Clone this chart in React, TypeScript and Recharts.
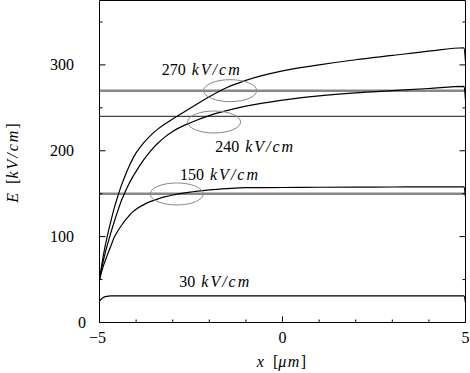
import { LineChart, Line, XAxis, YAxis, ReferenceDot } from 'recharts';

// field profiles E(x)
const xs = [-5, -4.9, -4.8, -4.7, -4.6, -4.5, -4.4, -4.3, -4.2, -4.1, -4, -3.8, -3.6, -3.4, -3.2, -3, -2.5, -2, -1.5, -1, 0, 1, 2, 3, 4, 4.96, 5];
const e270 = [50, 77, 98, 116, 133, 147, 160, 171, 181, 190, 197.5, 209, 218, 225.5, 231.5, 237, 250, 263, 274, 282, 293, 300, 306, 311, 316, 320, 303];
const e240 = [50, 71, 88, 103, 117, 130, 142, 152, 161, 169, 176, 189, 200, 209, 216.5, 222.5, 233, 241, 247, 252, 259, 264, 267.5, 270, 272.5, 275, 259];
const e150 = [50, 65, 77, 88, 99, 106.5, 113, 119, 124, 128.5, 132, 137, 141, 144, 146.5, 148.5, 152, 154.5, 156, 157, 157.2, 157.5, 157.7, 157.8, 158, 158, 146];
const e30 = [25, 29, 30.5, 31, 31, 31, 31, 31, 31, 31, 31, 31, 31, 31, 31, 31, 31, 31, 31, 31, 31, 31, 31, 31, 31, 31, 23];

// applied field levels
const levels = [270, 240, 150];

const xTicks = [-5, -4, -3, -2, -1, 0, 1, 2, 3, 4, 5];
const xLabelled = [-5, 0, 5];
const yTicks = [0, 50, 100, 150, 200, 250, 300, 350];
const yLabelled = [0, 100, 200, 300];

// annotations
const ellipses = [
  { x: -1.43, y: 270 },
  { x: -1.87, y: 233.5 },
  { x: -2.89, y: 149.7 },
];
const notes = [
  { x: -3.3, y: 288, value: '270' },
  { x: -1.84, y: 199, value: '240' },
  { x: -2.8, y: 166.5, value: '150' },
  { x: -2.82, y: 41, value: '30' },
];

const FONT = 'Liberation Serif';
const FS = 16;

const toRows = (vals: number[]) => xs.map((x, i) => ({ x, E: vals[i] }));

const makeTick = (side: string, labelled: number[], showText: boolean) => (props: any) => {
  const { x, y, payload } = props;
  const v = payload.value;
  const len = labelled.includes(v) ? 6 : 3;
  let line;
  if (side === 'bottom') line = <line x1={x} y1={y} x2={x} y2={y - len} stroke="#000" />;
  else if (side === 'top') line = <line x1={x} y1={y} x2={x} y2={y + len} stroke="#000" />;
  else if (side === 'left') line = <line x1={x} y1={y} x2={x + len} y2={y} stroke="#000" />;
  else line = <line x1={x} y1={y} x2={x - len} y2={y} stroke="#000" />;

  let text = null;
  if (showText && labelled.includes(v)) {
    const s = v < 0 ? '\u2212' + Math.abs(v) : String(v);
    if (side === 'bottom') {
      text = (
        <text className="lbl" x={v < 0 ? x - 2 : x} y={y + 20.5} textAnchor="middle" fontFamily={FONT} fontSize={FS} fill="#000">
          {s}
        </text>
      );
    } else if (side === 'left') {
      text = (
        <text className="lbl" x={v === 0 ? x - 13.5 : x - 25.5} y={y + 5.5} textAnchor="end" fontFamily={FONT} fontSize={FS} fill="#000">
          {s}
        </text>
      );
    }
  }
  return (
    <g>
      {line}
      {text}
    </g>
  );
};

const XLabel = (props: any) => {
  const vb = props.viewBox;
  const cx = vb.x + vb.width / 2 - 1;
  return (
    <text className="lbl" x={cx} y={vb.y + 44} textAnchor="middle" fontFamily={FONT} fontSize={FS} fill="#000">
      <tspan fontStyle="italic">x</tspan>
      <tspan dx={9}>[</tspan>
      <tspan fontStyle="italic" letterSpacing={1.5}>μm</tspan>
      <tspan>]</tspan>
    </text>
  );
};

const YLabel = (props: any) => {
  const vb = props.viewBox;
  const cy = vb.y + vb.height / 2 + 1.5;
  const cx = 18;
  return (
    <text className="lbl" x={cx} y={cy} textAnchor="middle" transform={`rotate(-90, ${cx}, ${cy})`} fontFamily={FONT} fontSize={FS} fill="#000">
      <tspan fontStyle="italic">E</tspan>
      <tspan dx={9}>[</tspan>
      <tspan fontStyle="italic" letterSpacing={2}>kV/cm</tspan>
      <tspan>]</tspan>
    </text>
  );
};

export default function App() {
  return (
    <div style={{ position: 'fixed', left: 0, top: 0, background: '#fff', fontFamily: FONT }}>
      <style>{`.lbl, .lbl tspan, svg text { font-family: 'Liberation Serif'; }`}</style>
      <LineChart width={470} height={373} margin={{ top: 0.5, right: 4.5, bottom: 0.5, left: 0.5 }}>
        <XAxis
          dataKey="x"
          type="number"
          domain={[-5, 5]}
          ticks={xTicks}
          allowDataOverflow
          height={50}
          tickSize={0}
          tickMargin={0}
          tickLine={false}
          axisLine={{ stroke: '#000' }}
          tick={makeTick('bottom', xLabelled, true)}
          label={{ content: XLabel }}
        />
        <XAxis
          xAxisId="top"
          orientation="top"
          mirror
          type="number"
          domain={[-5, 5]}
          ticks={xTicks}
          allowDataOverflow
          tickSize={0}
          tickMargin={0}
          tickLine={false}
          axisLine={{ stroke: '#000' }}
          tick={makeTick('top', xLabelled, false)}
        />
        <YAxis
          type="number"
          domain={[0, 375]}
          ticks={yTicks}
          allowDataOverflow
          width={99}
          tickSize={0}
          tickMargin={0}
          tickLine={false}
          axisLine={{ stroke: '#000' }}
          tick={makeTick('left', yLabelled, true)}
          label={{ content: YLabel }}
        />
        <YAxis
          yAxisId="right"
          orientation="right"
          mirror
          type="number"
          domain={[0, 375]}
          ticks={yTicks}
          allowDataOverflow
          tickSize={0}
          tickMargin={0}
          tickLine={false}
          axisLine={{ stroke: '#000' }}
          tick={makeTick('right', yLabelled, false)}
        />

        {levels.map((lv) => (
          <Line
            key={'lv' + lv}
            data={[{ x: -5, E: lv }, { x: 5, E: lv }]}
            dataKey="E"
            type="linear"
            stroke={lv === 240 ? '#444' : '#888'}
            strokeWidth={lv === 240 ? 1.2 : 2.5}
            dot={false}
            isAnimationActive={false}
          />
        ))}

        {[e270, e240, e150, e30].map((arr, i) => (
          <Line
            key={'c' + i}
            data={toRows(arr)}
            dataKey="E"
            type="monotone"
            stroke="#000"
            strokeWidth={1.2}
            dot={false}
            isAnimationActive={false}
          />
        ))}

        {ellipses.map((e, i) => (
          <ReferenceDot
            key={'el' + i}
            x={e.x}
            y={e.y}
            r={0}
            shape={(p: any) => <ellipse cx={p.cx} cy={p.cy} rx={26.5} ry={11} fill="none" stroke="#888" strokeWidth={1} />}
          />
        ))}

        {notes.map((n, i) => (
          <ReferenceDot
            key={'n' + i}
            x={n.x}
            y={n.y}
            r={0}
            shape={(p: any) => (
              <text className="lbl" x={p.cx} y={p.cy} fontFamily={FONT} fontSize={FS} fill="#000">
                {n.value}
                <tspan dx={6} fontStyle="italic" letterSpacing={2}>
                  kV/cm
                </tspan>
              </text>
            )}
          />
        ))}
      </LineChart>
    </div>
  );
}
